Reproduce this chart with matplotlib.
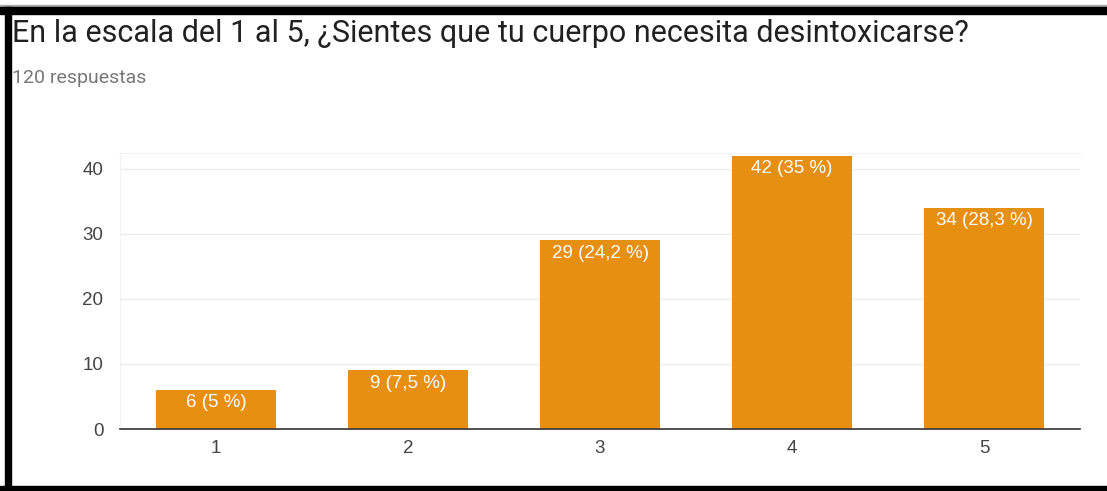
import matplotlib
matplotlib.use("Agg")
import matplotlib.pyplot as plt
from matplotlib.patches import Rectangle

categories = ["1", "2", "3", "4", "5"]
counts = [6, 9, 29, 42, 34]
labels = ["6 (5 %)", "9 (7,5 %)", "29 (24,2 %)", "42 (35 %)", "34 (28,3 %)"]
yticks = [0, 10, 20, 30, 40]
title = "En la escala del 1 al 5, ¿Sientes que tu cuerpo necesita desintoxicarse?"
subtitle = "120 respuestas"

plt.rcParams['font.family'] = ['Roboto', 'DejaVu Sans']
chart_font = ['Liberation Sans', 'DejaVu Sans']

W, H = 1107, 491
fig = plt.figure(figsize=(W / 100, H / 100), dpi=100)

def px(x0, y0, x1, y1):
    return [x0 / W, 1 - y1 / H, (x1 - x0) / W, (y1 - y0) / H]

ax = fig.add_axes(px(120, 153, 1080, 429))
x = list(range(len(categories)))
ax.bar(x, counts, width=0.625, color="#e68f11", zorder=3)
ax.set_xlim(-0.5, 4.5)
ax.set_ylim(0, 42.45)
ax.set_yticks(yticks)
ax.set_xticks(x)
ax.set_xticklabels(categories)
ax.tick_params(axis='both', length=0, colors="#444444", labelsize=13.5)
ax.tick_params(axis='y', pad=12)
ax.tick_params(axis='x', pad=8)
for t in ax.get_xticklabels() + ax.get_yticklabels():
    t.set_family(chart_font)
ax.grid(axis='y', color="#ebebeb", linewidth=1, zorder=0)
for s in ["top", "left", "right"]:
    ax.spines[s].set_color("#f3f3f3")
ax.spines["right"].set_visible(False)
ax.spines["bottom"].set_color("#333333")
ax.spines["bottom"].set_linewidth(1.2)
ax.spines["bottom"].set_zorder(4)

for xi, c, lab in zip(x, counts, labels):
    ax.annotate(lab, (xi, c), xytext=(0, -3), textcoords="offset points",
                ha="center", va="top", color="white", fontsize=13.5,
                family=chart_font, zorder=5)

fig.text(12 / W, 1 - 42 / H, title, fontsize=22, color="#212121", va="baseline", ha="left")
fig.text(12 / W, 1 - 83 / H, subtitle, fontsize=14, color="#777777", va="baseline", ha="left")

# frame decoration
fig.patches.append(Rectangle((0, 1 - 6 / H), 1, 1 / H, transform=fig.transFigure, color="#aaaaaa"))
fig.patches.append(Rectangle((0, 1 - 14 / H), 1, 7 / H, transform=fig.transFigure, color="black"))
fig.patches.append(Rectangle((5 / W, 0), 6 / W, 1 - 7 / H, transform=fig.transFigure, color="black"))
fig.patches.append(Rectangle((0, 0), 1, 5 / H, transform=fig.transFigure, color="black"))

fig.savefig("out.png", dpi=100)
